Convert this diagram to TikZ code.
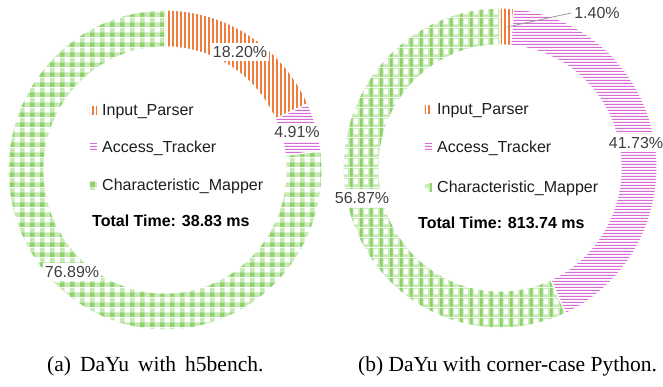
\documentclass[tikz,border=0pt]{standalone}
\usepackage{fontspec}
\setmainfont{Liberation Serif}
\newfontfamily\chartfont{Liberation Sans}
\usetikzlibrary{calc,patterns}

\definecolor{ipOrange}{HTML}{F07C3C}
\definecolor{atPink}{HTML}{D96BD6}
\definecolor{cmGreen}{HTML}{8FD16B}
\definecolor{cmLight}{HTML}{C6EAB3}
\definecolor{pctGray}{HTML}{404040}
\definecolor{legInk}{HTML}{1E1E1E}
\definecolor{leader}{HTML}{9A9A9A}

% vertical orange stripes (tall tile to avoid seams)
\pgfdeclarepatterninherentlycolored{ipstripes}{\pgfpointorigin}{\pgfqpoint{4pt}{400pt}}{\pgfqpoint{4pt}{400pt}}{%
  \pgfsetfillcolor{ipOrange}%
  \pgfpathrectangle{\pgfpointorigin}{\pgfqpoint{2.2pt}{400pt}}%
  \pgfusepath{fill}}
% horizontal pink lines (wide tile to avoid seams)
\pgfdeclarepatterninherentlycolored{atlines}{\pgfpointorigin}{\pgfqpoint{700pt}{3pt}}{\pgfqpoint{700pt}{3pt}}{%
  \pgfsetfillcolor{atPink}%
  \pgfpathrectangle{\pgfpointorigin}{\pgfqpoint{700pt}{1.5pt}}%
  \pgfusepath{fill}}
% green checker squares
\pgfdeclarepatterninherentlycolored{cmchecks}{\pgfpointorigin}{\pgfqpoint{10pt}{10pt}}{\pgfqpoint{10pt}{10pt}}{%
  \pgfsetfillcolor{cmLight}%
  \pgfpathrectangle{\pgfqpoint{5pt}{0pt}}{\pgfqpoint{5pt}{5pt}}%
  \pgfpathrectangle{\pgfqpoint{0pt}{5pt}}{\pgfqpoint{5pt}{5pt}}%
  \pgfusepath{fill}%
  \pgfsetfillcolor{cmGreen}%
  \pgfpathrectangle{\pgfpointorigin}{\pgfqpoint{5pt}{5pt}}%
  \pgfusepath{fill}}
% green grid with white windows
\pgfdeclarepatterninherentlycolored{cmgrid}{\pgfpointorigin}{\pgfqpoint{10pt}{10pt}}{\pgfqpoint{10pt}{10pt}}{%
  \pgfsetfillcolor{cmLight}%
  \pgfpathrectangle{\pgfpointorigin}{\pgfqpoint{10pt}{10pt}}%
  \pgfusepath{fill}%
  \pgfsetfillcolor{cmGreen}%
  \pgfpathrectangle{\pgfpointorigin}{\pgfqpoint{3pt}{10pt}}%
  \pgfusepath{fill}%
  \pgfsetfillcolor{white}%
  \pgfpathrectangle{\pgfqpoint{4pt}{3pt}}{\pgfqpoint{5pt}{6pt}}%
  \pgfusepath{fill}}

% ring slice: #1 centre, #2 start angle, #3 end angle, #4 pattern
\newcommand\ringslice[4]{%
  \path[pattern=#4, draw=white, line width=1.2pt]
    ($(#1)+(#2:157pt and 160pt)$)
    arc[start angle=#2, end angle=#3, x radius=157pt, y radius=160pt]
    -- ($(#1)+(#3:121pt and 123pt)$)
    arc[start angle=#3, end angle=#2, x radius=121pt, y radius=123pt]
    -- cycle;}

\tikzset{
  pct/.style={font=\chartfont\fontsize{16}{19}\selectfont, text=pctGray,
    fill=white, inner xsep=2pt, inner ysep=3.5pt},
  legtext/.style={font=\chartfont\fontsize{16}{19}\selectfont, text=legInk,
    anchor=base west, inner sep=0pt},
  total/.style={font=\chartfont\bfseries\fontsize{16}{19}\selectfont, text=black,
    anchor=base west, inner sep=0pt},
  legkey/.style={minimum width=7pt, minimum height=8pt, inner sep=0pt, anchor=east},
  caption/.style={font=\fontsize{21.5}{25}\selectfont, anchor=base west, inner sep=0pt},
}

\begin{document}
\begin{tikzpicture}[x=1pt,y=1pt]
\useasboundingbox (0,0) rectangle (663,387);
\fill[white] (0,0) rectangle (663,387);

% ---- (a) h5bench ----
\coordinate (cL) at (165,217);
\ringslice{cL}{90}{24.48}{ipstripes}
\ringslice{cL}{24.48}{6.80}{atlines}
\ringslice{cL}{6.80}{-270}{cmchecks}

\node[pct] (lA1) at (240,335) {18.20\%};
\node[pct] (lA2) at (297,255) {4.91\%};
\node[pct] (lA3) at (72,115) {76.89\%};

\node[legtext] (gA1) at (102,271) {Input\_Parser};
\node[legtext] (gA2) at (102,234) {Access\_Tracker};
\node[legtext] (gA3) at (102,196) {Characteristic\_Mapper};
\node[total]   (tA)  at (92,160) {Total Time: 38.83 ms};
\node[legkey, pattern=ipstripes] (kA1) at ([xshift=-5pt,yshift=5.5pt]gA1.base west) {};
\node[legkey, pattern=atlines]   (kA2) at ([xshift=-5pt,yshift=5.5pt]gA2.base west) {};
\node[legkey, pattern=cmchecks]  (kA3) at ([xshift=-5pt,yshift=5.5pt]gA3.base west) {};

% ---- (b) corner-case Python ----
\coordinate (cR) at (500,219);
\ringslice{cR}{90}{84.96}{ipstripes}
\ringslice{cR}{84.96}{-65.27}{atlines}
\ringslice{cR}{-65.27}{-270}{cmgrid}

\coordinate (ipTip) at (507,360);
\node[pct, fill=none] (lB1) at (597,374) {1.40\%};
\draw[leader, line width=0.8pt] (ipTip) -- ([xshift=-1pt]lB1.west);
\node[pct] (lB2) at (636,244) {41.73\%};
\node[pct] (lB3) at (362,189) {56.87\%};

\node[legtext] (gB1) at (437,272) {Input\_Parser};
\node[legtext] (gB2) at (437,234) {Access\_Tracker};
\node[legtext] (gB3) at (437,194) {Characteristic\_Mapper};
\node[total]   (tB)  at (418,158) {Total Time: 813.74 ms};
\node[legkey, pattern=ipstripes] (kB1) at ([xshift=-5pt,yshift=5.5pt]gB1.base west) {};
\node[legkey, pattern=atlines]   (kB2) at ([xshift=-5pt,yshift=5.5pt]gB2.base west) {};
\node[legkey, pattern=cmgrid]    (kB3) at ([xshift=-5pt,yshift=5.5pt]gB3.base west) {};

% ---- captions ----
\node[caption] (capA) at (47,15) {\spaceskip=9pt plus 0pt (a) DaYu with h5bench.};
\node[caption] (capB) at (358,15) {(b) DaYu with corner-case Python.};
\end{tikzpicture}
\end{document}
